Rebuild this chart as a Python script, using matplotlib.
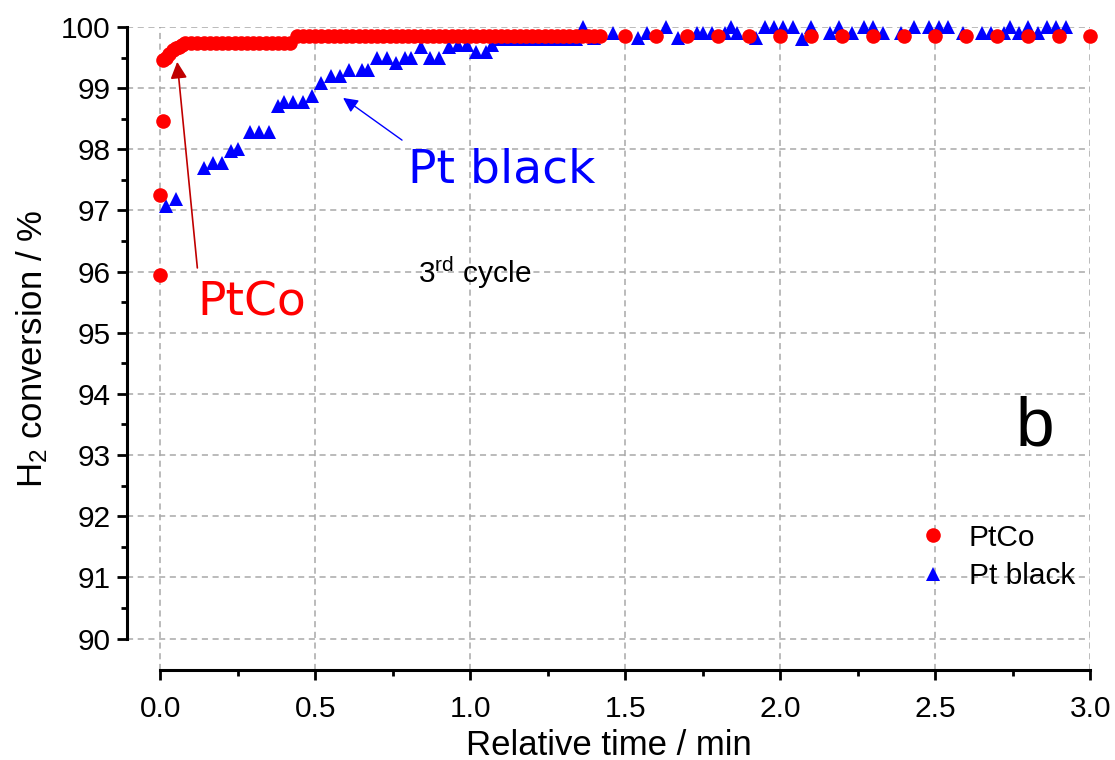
import matplotlib
matplotlib.use("Agg")
import matplotlib.pyplot as plt
import numpy as np
from matplotlib.ticker import MultipleLocator, FixedLocator

plt.rcParams["font.family"] = ["Liberation Sans", "DejaVu Sans"]
plt.rcParams["mathtext.fontset"] = "custom"
plt.rcParams["mathtext.rm"] = "Liberation Sans"
plt.rcParams["mathtext.it"] = "Liberation Sans:italic"

# PtCo, 3rd cycle (time in min, H2 conversion in %)
ptco_t = [0.0, 0.0, 0.008, 0.01, 0.02, 0.03, 0.04, 0.05, 0.06, 0.07,
          0.08, 0.10, 0.12, 0.14, 0.16, 0.18, 0.20, 0.22, 0.24, 0.26,
          0.28, 0.30, 0.32, 0.34, 0.36, 0.38, 0.40, 0.42,
          0.44, 0.46, 0.48, 0.50, 0.52, 0.54, 0.56, 0.58, 0.60, 0.62,
          0.64, 0.66, 0.68, 0.70, 0.72, 0.74, 0.76, 0.78, 0.80, 0.82,
          0.84, 0.86, 0.88, 0.90, 0.92, 0.94, 0.96, 0.98, 1.00, 1.02,
          1.04, 1.06, 1.08, 1.10, 1.12, 1.14, 1.16, 1.18, 1.20, 1.22,
          1.24, 1.26, 1.28, 1.30, 1.32, 1.34, 1.36, 1.38, 1.40, 1.42,
          1.5, 1.6, 1.7, 1.8, 1.9, 2.0, 2.1, 2.2, 2.3, 2.4, 2.5, 2.6,
          2.7, 2.8, 2.9, 3.0]
ptco_y = [95.95, 97.26, 98.46, 99.46, 99.50, 99.55, 99.62, 99.66, 99.68, 99.70,
          99.73, 99.74, 99.74, 99.74, 99.74, 99.74, 99.74, 99.74, 99.74, 99.74,
          99.74, 99.74, 99.74, 99.74, 99.74, 99.74, 99.74, 99.74,
          99.85, 99.85, 99.85, 99.85, 99.85, 99.85, 99.85, 99.85, 99.85, 99.85,
          99.85, 99.85, 99.85, 99.85, 99.85, 99.85, 99.85, 99.85, 99.85, 99.85,
          99.85, 99.85, 99.85, 99.85, 99.85, 99.85, 99.85, 99.85, 99.85, 99.85,
          99.85, 99.85, 99.85, 99.85, 99.85, 99.85, 99.85, 99.85, 99.85, 99.85,
          99.85, 99.85, 99.85, 99.85, 99.85, 99.85, 99.85, 99.85, 99.85, 99.85,
          99.85, 99.85, 99.85, 99.85, 99.85, 99.85, 99.85, 99.85, 99.85, 99.85,
          99.85, 99.85, 99.85, 99.85, 99.85, 99.85]

# Pt black, 3rd cycle
ptb_t = [0.02, 0.05, 0.14, 0.17, 0.20, 0.23, 0.25, 0.29, 0.32, 0.35,
         0.38, 0.40, 0.43, 0.46, 0.49, 0.52, 0.55, 0.58, 0.61, 0.65,
         0.67, 0.70, 0.73, 0.76, 0.79, 0.81, 0.84, 0.87, 0.90, 0.93,
         0.96, 0.99, 1.02, 1.05, 1.07, 1.10, 1.13, 1.16, 1.19, 1.22,
         1.25, 1.28, 1.31, 1.34, 1.365, 1.40, 1.46, 1.54, 1.57, 1.63,
         1.67, 1.73, 1.75, 1.78, 1.82, 1.84, 1.86, 1.92, 1.95, 1.98,
         2.01, 2.04, 2.07, 2.10, 2.16, 2.19, 2.23, 2.27, 2.30, 2.33,
         2.39, 2.43, 2.48, 2.51, 2.54, 2.59, 2.65, 2.68, 2.72, 2.74,
         2.77, 2.80, 2.83, 2.86, 2.89, 2.92]
ptb_y = [97.07, 97.18, 97.70, 97.78, 97.78, 97.97, 98.00, 98.28, 98.28, 98.28,
         98.70, 98.78, 98.78, 98.78, 98.87, 99.08, 99.20, 99.20, 99.30, 99.30,
         99.30, 99.49, 99.49, 99.41, 99.49, 99.49, 99.68, 99.49, 99.49, 99.68,
         99.70, 99.70, 99.59, 99.59, 99.70, 99.80, 99.80, 99.80, 99.80, 99.80,
         99.80, 99.80, 99.80, 99.80, 100.0, 99.82, 99.90, 99.82, 99.90, 100.0,
         99.82, 99.90, 99.90, 99.90, 99.90, 100.0, 99.90, 99.82, 100.0, 100.0,
         100.0, 100.0, 99.80, 100.0, 99.90, 100.0, 99.90, 100.0, 100.0, 99.90,
         99.90, 100.0, 100.0, 100.0, 100.0, 99.90, 99.90, 99.90, 99.90, 100.0,
         99.90, 100.0, 99.90, 100.0, 100.0, 100.0]

fig = plt.figure(figsize=(11.15, 7.6), dpi=100)
ax = fig.add_axes([0.114, 0.118, 0.864, 0.8465])

ax.plot(ptb_t, ptb_y, "^", color="#0000FF", markersize=10.5, markeredgewidth=0,
        label="Pt black", clip_on=False, zorder=3)
ax.plot(ptco_t, ptco_y, "o", color="#FF0000", markersize=10.5, markeredgewidth=0,
        label="PtCo", clip_on=False, zorder=4)

ax.set_xlim(-0.1065, 3.0)
ax.set_ylim(89.48, 100.0)
ax.spines["top"].set_visible(False)
ax.spines["right"].set_visible(False)
ax.spines["left"].set_bounds(90, 100)
ax.spines["bottom"].set_bounds(0, 3.0)
for s in ("left", "bottom"):
    ax.spines[s].set_linewidth(2.2)

ax.xaxis.set_major_locator(MultipleLocator(0.5))
ax.xaxis.set_minor_locator(FixedLocator(np.arange(0.25, 3.0, 0.5)))
ax.yaxis.set_major_locator(MultipleLocator(1))
ax.yaxis.set_minor_locator(FixedLocator(np.arange(90.5, 100, 1.0)))
ax.xaxis.set_major_formatter(plt.FuncFormatter(lambda v, p: f"{v:.1f}"))
ax.tick_params(which="major", direction="out", length=7, width=2, labelsize=21.5)
ax.tick_params(which="minor", direction="out", length=4, width=2)
ax.tick_params(axis="x", which="major", pad=11)
ax.tick_params(axis="y", which="major", pad=5)

ax.grid(True, which="major", color="#A8A8A8", linestyle=(0, (4, 3)), linewidth=1.1)
ax.set_axisbelow(True)

ax.set_xlabel("Relative time / min", fontsize=25, labelpad=4)
ax.set_ylabel("H$_2$ conversion / %", fontsize=25, labelpad=8)

# annotations
ax.annotate("", xy=(0.055, 99.43), xytext=(0.12, 96.06),
            arrowprops=dict(arrowstyle="-|>", color="#C00000", lw=1.2,
                            mutation_scale=25, shrinkA=0, shrinkB=0))
ax.text(0.12, 95.29, "PtCo", color="#FF0000", fontsize=34,
        family="DejaVu Sans", ha="left", va="baseline")
ax.annotate("", xy=(0.59, 98.84), xytext=(0.78, 98.15),
            arrowprops=dict(arrowstyle="-|>", color="#0000FF", lw=1.0,
                            mutation_scale=22, shrinkA=0, shrinkB=0))
ax.text(0.80, 97.45, "Pt black", color="#0000FF", fontsize=34,
        family="DejaVu Sans", ha="left", va="baseline")
ax.text(0.83, 95.81, r"3$^{\mathrm{rd}}$ cycle", color="black", fontsize=21.5,
        ha="left", va="baseline")
ax.text(2.76, 93.16, "b", color="black", fontsize=50, ha="left", va="baseline")

handles, labels = ax.get_legend_handles_labels()
ax.legend(handles[::-1], labels[::-1], loc="lower right", frameon=False,
          fontsize=21.5, bbox_to_anchor=(1075 / 1115, 1 - 590 / 760),
          bbox_transform=fig.transFigure, borderaxespad=0, borderpad=0,
          handletextpad=0.6, labelspacing=0.35, handlelength=1.2)

fig.savefig("out.png", dpi=100)
